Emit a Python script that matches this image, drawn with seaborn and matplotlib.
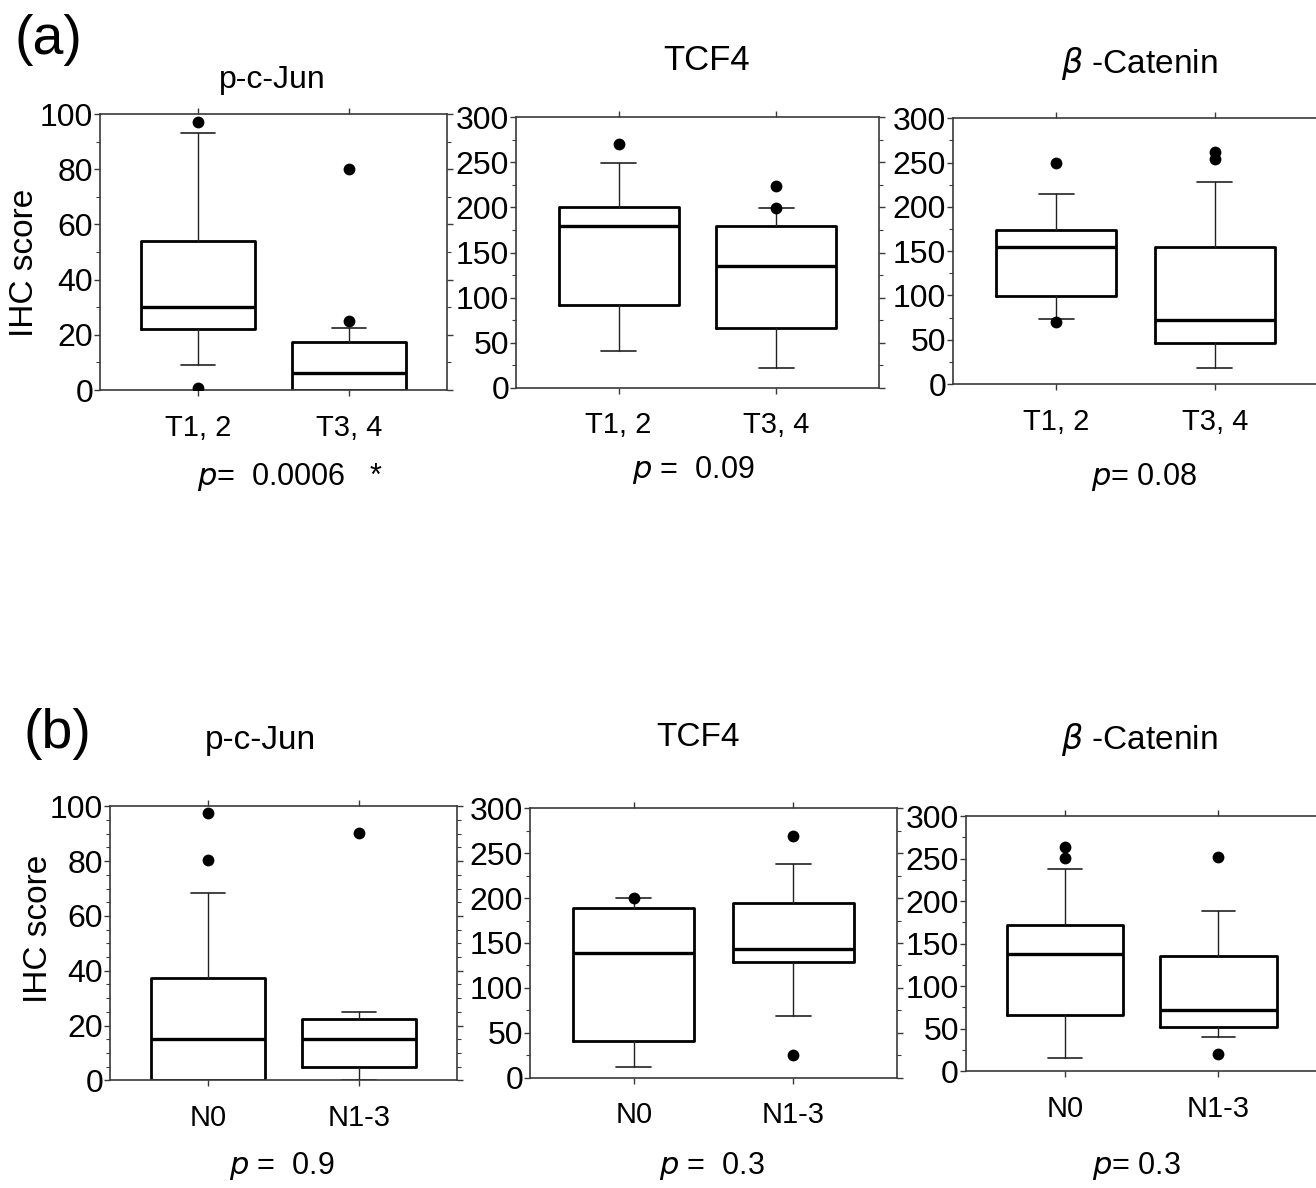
import matplotlib
matplotlib.use("Agg")
import matplotlib.pyplot as plt
import seaborn as sns
import pandas as pd
from matplotlib.ticker import MultipleLocator
from matplotlib import font_manager

sns.set_theme(style="ticks")
plt.rcParams["font.family"] = ["Liberation Sans", "DejaVu Sans"]
plt.rcParams["mathtext.fontset"] = "dejavusans"
plt.rcParams["text.color"] = "black"
plt.rcParams["axes.labelcolor"] = "black"
plt.rcParams["xtick.labelcolor"] = "black"
plt.rcParams["ytick.labelcolor"] = "black"

avail = {f.name for f in font_manager.fontManager.ttflist}
NARROW = ["Liberation Sans Narrow", "Liberation Sans", "DejaVu Sans"] if "Liberation Sans Narrow" in avail else ["Liberation Sans", "DejaVu Sans"]

# ---------------- data ----------------
groups_t = ["T1, 2", "T3, 4"]
groups_n = ["N0", "N1-3"]
titles = ["p-c-Jun", "TCF4", r"$\beta$ -Catenin"]

# (a) T stage
a_pcjun_whislo = [9.0, 0.0]
a_pcjun_q1 = [22.2, 0.0]
a_pcjun_med = [30.2, 6.0]
a_pcjun_q3 = [54.1, 17.5]
a_pcjun_whishi = [93.0, 22.6]
a_pcjun_fliers = [[97.0, 0.8], [80.1, 25.0]]

a_tcf4_whislo = [40.7, 21.5]
a_tcf4_q1 = [92.0, 66.0]
a_tcf4_med = [179.5, 134.5]
a_tcf4_q3 = [200.0, 179.0]
a_tcf4_whishi = [249.0, 199.5]
a_tcf4_fliers = [[270.0], [224.0, 199.0]]

a_bcat_whislo = [73.5, 18.5]
a_bcat_q1 = [99.0, 46.0]
a_bcat_med = [155.0, 72.5]
a_bcat_q3 = [174.0, 154.5]
a_bcat_whishi = [214.0, 228.0]
a_bcat_fliers = [[250.0, 69.5], [262.0, 254.0]]

# (b) N stage
b_pcjun_whislo = [0.0, 0.0]
b_pcjun_q1 = [0.0, 5.0]
b_pcjun_med = [15.1, 15.1]
b_pcjun_q3 = [37.5, 22.3]
b_pcjun_whishi = [68.2, 24.8]
b_pcjun_fliers = [[97.4, 80.3], [90.1]]

b_tcf4_whislo = [11.5, 68.7]
b_tcf4_q1 = [40.8, 129.2]
b_tcf4_med = [138.5, 143.0]
b_tcf4_q3 = [189.4, 194.2]
b_tcf4_whishi = [200.0, 237.6]
b_tcf4_fliers = [[200.0], [269.2, 25.2]]

b_bcat_whislo = [15.7, 40.7]
b_bcat_q1 = [65.8, 52.1]
b_bcat_med = [138.0, 72.1]
b_bcat_q3 = [172.0, 135.1]
b_bcat_whishi = [237.7, 188.4]
b_bcat_fliers = [[263.2, 250.3], [252.2, 20.4]]

p_texts_a = [r"$p$=  0.0006   *", r"$p$ =  0.09", r"$p$= 0.08"]
p_texts_b = [r"$p$ =  0.9", r"$p$ =  0.3", r"$p$= 0.3"]

# ---------------- layout ----------------
W, H = 1316, 1188
fig = plt.figure(figsize=(W / 100, H / 100), dpi=100)
fig.patch.set_facecolor("white")


def rect(l, r, t, b):
    return [l / W, 1 - b / H, (r - l) / W, (b - t) / H]


panels = [
    dict(rect=rect(100, 447, 114, 390), groups=groups_t, stats=(a_pcjun_whislo, a_pcjun_q1, a_pcjun_med, a_pcjun_q3, a_pcjun_whishi), fliers=a_pcjun_fliers, ymax=100, major=20, minor=10),
    dict(rect=rect(516, 879, 117.3, 387.7), groups=groups_t, stats=(a_tcf4_whislo, a_tcf4_q1, a_tcf4_med, a_tcf4_q3, a_tcf4_whishi), fliers=a_tcf4_fliers, ymax=300, major=50, minor=25),
    dict(rect=rect(953, 1318, 118.3, 384), groups=groups_t, stats=(a_bcat_whislo, a_bcat_q1, a_bcat_med, a_bcat_q3, a_bcat_whishi), fliers=a_bcat_fliers, ymax=300, major=50, minor=25),
    dict(rect=rect(110, 457, 806.3, 1080.3), groups=groups_n, stats=(b_pcjun_whislo, b_pcjun_q1, b_pcjun_med, b_pcjun_q3, b_pcjun_whishi), fliers=b_pcjun_fliers, ymax=100, major=20, minor=5),
    dict(rect=rect(530, 897.3, 808.3, 1077.7), groups=groups_n, stats=(b_tcf4_whislo, b_tcf4_q1, b_tcf4_med, b_tcf4_q3, b_tcf4_whishi), fliers=b_tcf4_fliers, ymax=300, major=50, minor=25),
    dict(rect=rect(965.7, 1318, 816, 1071.3), groups=groups_n, stats=(b_bcat_whislo, b_bcat_q1, b_bcat_med, b_bcat_q3, b_bcat_whishi), fliers=b_bcat_fliers, ymax=300, major=50, minor=25),
]

spine_col = "#3a3a3a"
for p in panels:
    ax = fig.add_axes(p["rect"])
    ax.set_facecolor("white")
    whislo, q1, med, q3, whishi = p["stats"]
    # fliers via seaborn on the categorical axis
    rows = []
    for g, fl in zip(p["groups"], p["fliers"]):
        for v in fl:
            rows.append({"group": g, "value": v})
    df = pd.DataFrame(rows)
    sns.stripplot(data=df, x="group", y="value", order=p["groups"], jitter=False,
                  color="black", size=8.5, linewidth=0, ax=ax, zorder=4)
    stats = [dict(whislo=whislo[i], q1=q1[i], med=med[i], q3=q3[i], whishi=whishi[i], fliers=[])
             for i in range(2)]
    ax.bxp(stats, positions=[0, 1], widths=0.76, capwidths=0.22, showfliers=False,
           manage_ticks=False,
           boxprops=dict(color="black", linewidth=2.0),
           medianprops=dict(color="black", linewidth=2.4),
           whiskerprops=dict(color="#222222", linewidth=1.0),
           capprops=dict(color="#222222", linewidth=1.2))
    ax.set_xlim(-0.65, 1.65)
    ax.set_ylim(0, p["ymax"])
    ax.set_xticks([0, 1])
    ax.set_xticklabels(p["groups"], family=NARROW, fontsize=21, color="black")
    ax.yaxis.set_major_locator(MultipleLocator(p["major"]))
    ax.yaxis.set_minor_locator(MultipleLocator(p["minor"]))
    for lab in ax.get_yticklabels():
        lab.set_family(NARROW)
        lab.set_fontsize(23)
        lab.set_color("black")
    ax.set_xlabel("")
    ax.set_ylabel("")
    for s in ax.spines.values():
        s.set_visible(True)
        s.set_color(spine_col)
        s.set_linewidth(1.2)
    ax.tick_params(axis="both", which="major", direction="out", length=4, width=1.0, color=spine_col)
    ax.tick_params(axis="y", which="minor", direction="out", length=3, width=0.8, color=spine_col)
    ax.tick_params(axis="x", top=True, pad=13)
    ax.tick_params(axis="x", which="both", color=spine_col)
    ax.tick_params(axis="y", which="both", right=True, labelright=False, pad=1)
    ax.grid(False)

# ---------------- texts ----------------
def ftext(x, y, s, size, family=None, **kw):
    fig.text(x / W, 1 - y / H, s, fontsize=size, ha="center", va="center", color="black",
             family=family if family else ["Liberation Sans", "DejaVu Sans"], **kw)

ftext(48, 40, "(a)", 40)
ftext(57, 734, "(b)", 40)
ftext(25, 263, "IHC score", 24, rotation=90)
ftext(39, 929, "IHC score", 24, rotation=90)

title_pos_a = [(272, 80), (707, 61), (1139, 64)]
title_pos_b = [(260, 740), (698, 738), (1139, 740)]
title_size_a = [23, 25, 24]
title_size_b = [24, 24, 24]
for (x, y), t, sz in zip(title_pos_a, titles, title_size_a):
    ftext(x, y, t, sz)
for (x, y), t, sz in zip(title_pos_b, titles, title_size_b):
    ftext(x, y, t, sz)

p_pos_a = [(290, 477), (693, 470), (1144, 477)]
p_pos_b = [(282, 1166), (712, 1166), (1136, 1166)]
for (x, y), t in zip(p_pos_a, p_texts_a):
    ftext(x, y, t, 22, family=NARROW)
for (x, y), t in zip(p_pos_b, p_texts_b):
    ftext(x, y, t, 22, family=NARROW)

fig.savefig("out.png", dpi=100, facecolor="white")
